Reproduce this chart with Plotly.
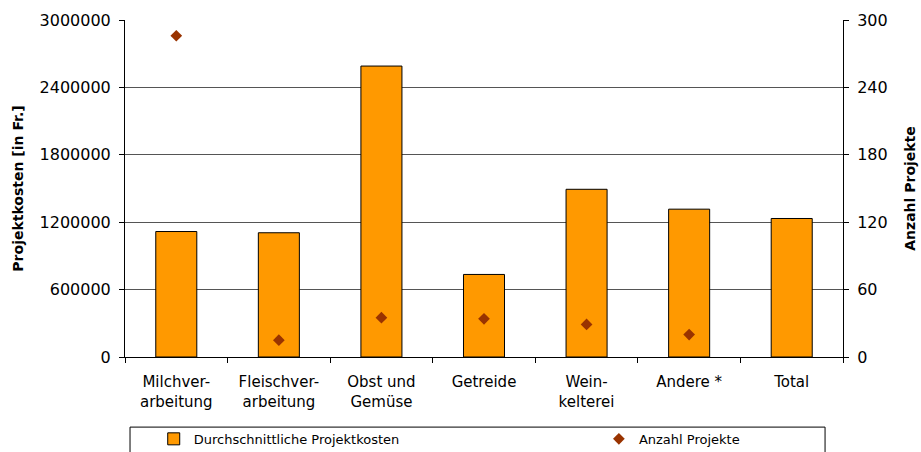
import plotly.graph_objects as go

categories = ["Milchver-<br>arbeitung", "Fleischver-<br>arbeitung", "Obst und<br>Gemüse",
              "Getreide", "Wein-<br>kelterei", "Andere *", "Total"]
kosten = [1117000, 1106000, 2590000, 735000, 1493000, 1316000, 1233000]
anzahl = [286, 15, 35, 34, 29, 20, None]

FONT = "DejaVu Sans"

fig = go.Figure()
fig.add_trace(go.Bar(
    x=categories, y=kosten, name="Durchschnittliche Projektkosten",
    marker=dict(color="#FF9900", line=dict(color="#000000", width=1)),
    width=0.4, yaxis="y", legend="legend",
))
fig.add_trace(go.Scatter(
    x=categories, y=anzahl, name="Anzahl Projekte", mode="markers",
    marker=dict(symbol="diamond", color="#993300", size=9),
    yaxis="y2", legend="legend2",
))

leg = dict(xanchor="left", yanchor="middle", y=-0.243,
           font=dict(family=FONT, size=13), bgcolor="rgba(0,0,0,0)",
           itemclick=False, itemwidth=30)

fig.update_layout(
    width=921, height=452,
    margin=dict(l=125, r=78, t=20, b=95, autoexpand=False),
    plot_bgcolor="white", paper_bgcolor="white",
    font=dict(family=FONT, size=13, color="#000000"),
    showlegend=True,
    legend=dict(leg, x=0.04),
    legend2=dict(leg, x=0.66),
    xaxis=dict(showline=True, linecolor="#000000", ticks="outside", tickson="boundaries",
               ticklen=5, tickcolor="#000000", tickfont=dict(size=15), showgrid=False,
               ticklabelstandoff=11, automargin=False),
    yaxis=dict(range=[0, 3000000], dtick=600000, tickformat="d", showline=True,
               linecolor="#000000", ticks="outside", ticklen=5, tickcolor="#000000",
               showgrid=True, gridcolor="#555555", gridwidth=1, automargin=False,
               tickfont=dict(size=16), zeroline=False, ticklabelstandoff=5,
               title=dict(text="<b>Projektkosten [in Fr.]</b>", font=dict(size=14), standoff=12)),
    yaxis2=dict(range=[0, 300], dtick=60, overlaying="y", side="right", showline=True,
                linecolor="#000000", ticks="outside", ticklen=5, tickcolor="#000000",
                showgrid=False, zeroline=False, tickfont=dict(size=16), automargin=False,
                ticklabelstandoff=5,
                title=dict(text="<b>Anzahl Projekte</b>", font=dict(size=14), standoff=18)),
    shapes=[dict(type="rect", xref="paper", yref="paper", x0=0.007, x1=0.975,
                 y0=-0.208, y1=-0.32, line=dict(color="#000000", width=1))],
)

# drop the browser's default 8px body margin so the figure sits at 0,0
fig.write_html("out.html", config={"displayModeBar": False},
               post_script="document.body.style.margin='0';")
